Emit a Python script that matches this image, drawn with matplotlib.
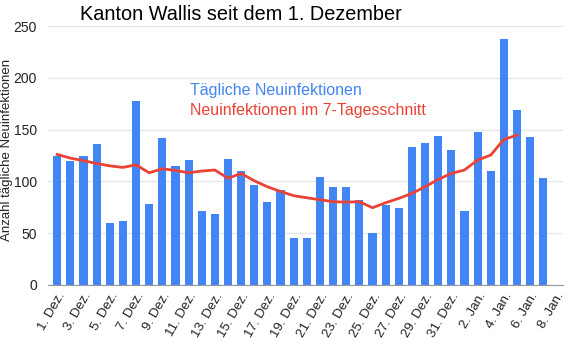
import matplotlib
matplotlib.use("Agg")
import matplotlib.pyplot as plt
import numpy as np

plt.rcParams['font.family'] = ['Liberation Sans', 'DejaVu Sans']

dates = ([f"{d}. Dez." for d in range(1, 32)] + [f"{d}. Jan." for d in range(1, 9)])
daily = [125, 120, 125, 136, 60, 62, 178, 78, 142, 115, 121, 71, 69, 122, 110, 97,
         80, 92, 45, 45, 104, 95, 95, 82, 50, 77, 74, 133, 137, 144, 130,
         71, 148, 110, 237, 169, 143, 103]
avg7 = [126, 122.5, 120, 117.3, 115, 113.5, 116, 108.3, 112.2, 110.6, 108.3, 110, 111,
        103, 107.7, 100.6, 94.8, 90.3, 86.2, 84.2, 82.3, 80.4, 80, 80.4, 74.6, 79.4,
        83.6, 88.4, 94.8, 101.9, 107.7, 111, 120.6, 125.4, 140.5, 144.7]
yticks = [0, 50, 100, 150, 200, 250]

blue = '#4285F4'
red = '#EA4335'

fig = plt.figure(figsize=(5.82, 3.6), dpi=100)
ax = fig.add_axes([48/582, 1-285/360, (563-48)/582, (285-26)/360])

x = np.arange(len(daily))
ax.bar(x, daily, width=0.62, color=blue, zorder=2)
ax.plot(np.arange(len(avg7)), avg7, color=red, lw=2, zorder=3)

ax.set_xlim(-0.7, len(dates) - 0.5)
ax.set_ylim(0, 250)
ax.set_yticks(yticks)
ax.set_yticklabels([str(v) for v in yticks], fontsize=10, color='#222222')
ax.yaxis.grid(True, color='#e6e6e6', lw=1, zorder=0)
ax.set_axisbelow(True)
for s in ['top', 'right', 'left']:
    ax.spines[s].set_visible(False)
ax.spines['bottom'].set_color('#999999')
ax.tick_params(axis='both', length=0, pad=4)
ax.tick_params(axis='y', pad=8)

tick_idx = list(range(0, len(dates), 2))
ax.set_xticks(tick_idx)
ax.set_xticklabels([dates[i] for i in tick_idx], rotation=60, ha='right',
                   rotation_mode='anchor', fontsize=9.5, color='#222222')

ax.set_ylabel('Anzahl tägliche Neuinfektionen', fontsize=9.5, color='#222222', va='center')
ax.yaxis.set_label_coords(-41/515, 0.52)

fig.text(80/582, 1-14/360, 'Kanton Wallis seit dem 1. Dezember', fontsize=14.3,
         ha='left', va='center', color='black')
fig.text(190/582, 1-90/360, 'Tägliche Neuinfektionen', fontsize=11.5, color=blue,
         ha='left', va='center')
fig.text(190/582, 1-111/360, 'Neuinfektionen im 7-Tagesschnitt', fontsize=11.5, color=red,
         ha='left', va='center')

fig.savefig('out.png', dpi=100)
